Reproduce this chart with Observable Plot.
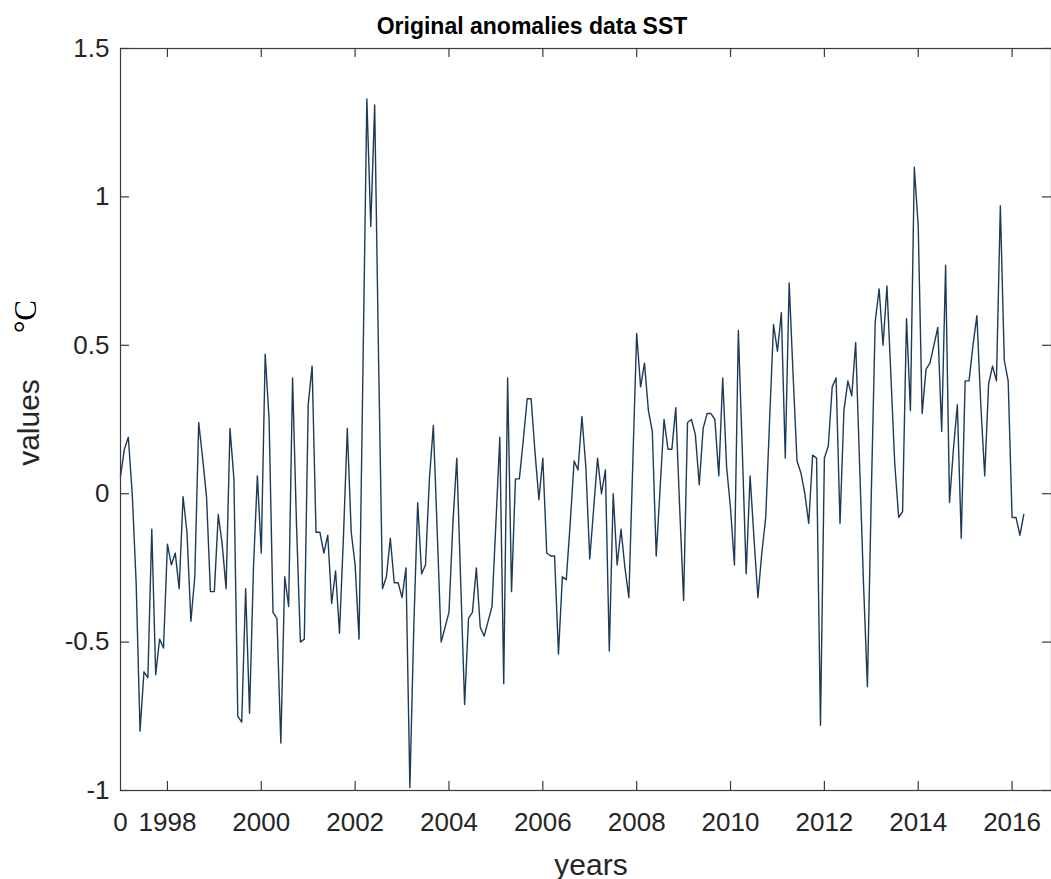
<!DOCTYPE html>
<html>
<head>
<meta charset="utf-8">
<script src="https://cdn.jsdelivr.net/npm/d3@7"></script>
<script src="https://cdn.jsdelivr.net/npm/@observablehq/plot@0.6"></script>
<style>
  html, body { margin: 0; padding: 0; background: #ffffff; overflow: hidden; }
</style>
</head>
<body>
<div id="chart"></div>
<script>
// ---- data ----
const startYear = 1997;            // first monthly sample: January 1997
const anomalies = [
  // 1997
  0.06, 0.15, 0.19, 0.00, -0.30, -0.80, -0.60, -0.62, -0.12, -0.61, -0.49, -0.52,
  // 1998
  -0.17, -0.24, -0.20, -0.32, -0.01, -0.13, -0.43, -0.28, 0.24, 0.12, -0.01, -0.33,
  // 1999
  -0.33, -0.07, -0.17, -0.32, 0.22, 0.05, -0.75, -0.77, -0.32, -0.74, -0.25, 0.06,
  // 2000
  -0.20, 0.47, 0.25, -0.40, -0.42, -0.84, -0.28, -0.38, 0.39, -0.10, -0.50, -0.49,
  // 2001
  0.30, 0.43, -0.13, -0.13, -0.20, -0.14, -0.37, -0.26, -0.47, -0.15, 0.22, -0.13,
  // 2002
  -0.24, -0.49, 0.42, 1.33, 0.90, 1.31, 0.45, -0.32, -0.28, -0.15, -0.30, -0.30,
  // 2003
  -0.35, -0.25, -0.99, -0.45, -0.03, -0.27, -0.24, 0.05, 0.23, -0.13, -0.50, -0.45,
  // 2004
  -0.40, -0.10, 0.12, -0.30, -0.71, -0.42, -0.40, -0.25, -0.45, -0.48, -0.43, -0.38,
  // 2005
  -0.10, 0.19, -0.64, 0.39, -0.33, 0.05, 0.05, 0.18, 0.32, 0.32, 0.14, -0.02,
  // 2006
  0.12, -0.20, -0.21, -0.21, -0.54, -0.28, -0.29, -0.10, 0.11, 0.08, 0.26, 0.09,
  // 2007
  -0.22, -0.05, 0.12, 0.00, 0.08, -0.53, 0.00, -0.24, -0.12, -0.25, -0.35, 0.10,
  // 2008
  0.54, 0.36, 0.44, 0.28, 0.21, -0.21, 0.02, 0.25, 0.15, 0.15, 0.29, -0.05,
  // 2009
  -0.36, 0.24, 0.25, 0.20, 0.03, 0.22, 0.27, 0.27, 0.25, 0.06, 0.39, 0.09,
  // 2010
  -0.05, -0.24, 0.55, 0.15, -0.27, 0.06, -0.15, -0.35, -0.20, -0.08, 0.25, 0.57,
  // 2011
  0.48, 0.61, 0.12, 0.71, 0.40, 0.11, 0.07, 0.00, -0.10, 0.13, 0.12, -0.78,
  // 2012
  0.12, 0.16, 0.36, 0.39, -0.10, 0.28, 0.38, 0.33, 0.51, 0.10, -0.30, -0.65,
  // 2013
  0.00, 0.58, 0.69, 0.50, 0.70, 0.40, 0.10, -0.08, -0.06, 0.59, 0.28, 1.10,
  // 2014
  0.90, 0.27, 0.42, 0.44, 0.50, 0.56, 0.21, 0.77, -0.03, 0.15, 0.30, -0.15,
  // 2015
  0.38, 0.38, 0.50, 0.60, 0.30, 0.06, 0.37, 0.43, 0.38, 0.97, 0.45, 0.38,
  // 2016
  -0.08, -0.08, -0.14, -0.07
];
const xTickValues = [1997, 1998, 2000, 2002, 2004, 2006, 2008, 2010, 2012, 2014, 2016];
const xTickLabels = ["0", "1998", "2000", "2002", "2004", "2006", "2008", "2010", "2012", "2014", "2016"];
const yTickValues = [-1, -0.5, 0, 0.5, 1, 1.5];
const yTickLabels = ["-1", "-0.5", "0", "0.5", "1", "1.5"];
const xDomain = [1997, 2016.84];
const yDomain = [-1, 1.5];
const titleText = "Original anomalies data SST";
const xLabelText = "years";
const yLabelText = "values";
const unitText = "\u00B0C";

const series = anomalies.map((v, i) => ({t: startYear + i / 12, v}));

// ---- layout ----
const W = 1051, H = 879;
const mL = 120, mR = 0, mT = 48, mB = 89;
const innerW = W - mL - mR, innerH = H - mT - mB;
const tickLen = 9;
const ink = "#262626";
const axisStroke = "#3a3a3a";
const sans = "'Liberation Sans', Arial, Helvetica, sans-serif";

const chart = Plot.plot({
  width: W,
  height: H,
  marginLeft: mL,
  marginRight: mR,
  marginTop: mT,
  marginBottom: mB,
  style: {fontFamily: sans, fontSize: "26px", color: ink, background: "#ffffff", overflow: "visible"},
  x: {domain: xDomain, axis: null},
  y: {domain: yDomain, axis: null},
  marks: [
    Plot.frame({stroke: axisStroke, strokeWidth: 1.2}),
    // inward tick marks (bottom, top, left, right)
    Plot.tickX(xTickValues.slice(1), {x: d => d, insetTop: innerH - tickLen, stroke: axisStroke, strokeWidth: 1.2}),
    Plot.tickX(xTickValues.slice(1), {x: d => d, insetBottom: innerH - tickLen, stroke: axisStroke, strokeWidth: 1.2}),
    Plot.tickY(yTickValues, {y: d => d, insetRight: innerW - tickLen, stroke: axisStroke, strokeWidth: 1.2}),
    Plot.tickY(yTickValues, {y: d => d, insetLeft: innerW - tickLen, stroke: axisStroke, strokeWidth: 1.2}),
    // the series
    Plot.line(series, {x: "t", y: "v", stroke: "#1d3a58", strokeWidth: 1.4}),
    // tick labels
    Plot.axisX({
      ticks: xTickValues,
      tickFormat: d => xTickLabels[xTickValues.indexOf(d)],
      tickSize: 0, tickPadding: 22, label: null, fill: ink
    }),
    Plot.axisY({
      ticks: yTickValues,
      tickFormat: d => yTickLabels[yTickValues.indexOf(d)],
      tickSize: 0, tickPadding: 11, label: null, fill: ink
    }),
    // title
    Plot.text([titleText], {
      frameAnchor: "top", textAnchor: "middle", lineAnchor: "bottom",
      dx: -54, dy: -15, fontSize: 23, fontWeight: "bold", fill: "#000000", fontFamily: sans
    }),
    // x label
    Plot.text([xLabelText], {
      frameAnchor: "bottom", textAnchor: "middle", lineAnchor: "bottom",
      dx: 5, dy: 84, fontSize: 30, fill: ink, fontFamily: sans
    }),
    // y label
    Plot.text([yLabelText], {
      frameAnchor: "left", textAnchor: "middle", lineAnchor: "middle", rotate: -90,
      dx: -91, dy: 3, fontSize: 30, fill: ink, fontFamily: sans
    }),
    Plot.text([unitText], {
      frameAnchor: "top-left", textAnchor: "middle", lineAnchor: "middle", rotate: -90,
      dx: -94, dy: 268, fontSize: 31, fill: "#000000", fontFamily: "'Liberation Serif', 'Times New Roman', serif"
    })
  ]
});

document.getElementById("chart").appendChild(chart);
</script>
</body>
</html>
